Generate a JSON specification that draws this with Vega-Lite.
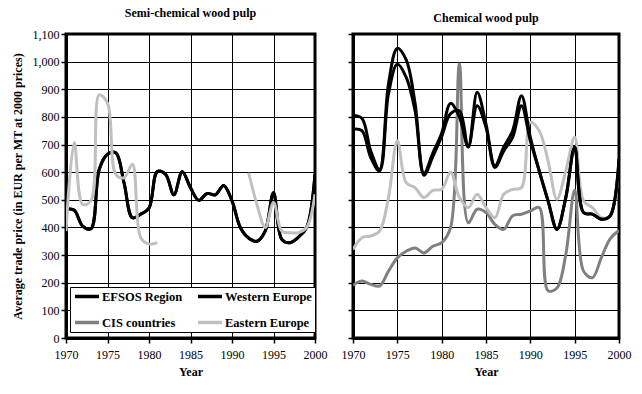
{
  "$schema": "https://vega.github.io/schema/vega-lite/v6.json",
  "background": "white",
  "padding": {"left": 9, "top": 5, "right": 5, "bottom": 5},
  "spacing": 10,
  "config": {
    "font": "Liberation Serif",
    "style": {"guide-label": {"font": "Liberation Serif", "fill": "black"}, "guide-title": {"font": "Liberation Serif", "fill": "black"}, "group-title": {"font": "Liberation Serif"}},
    "view": {"stroke": "black", "strokeWidth": 3},
    "axis": {
      "labelFont": "Liberation Serif", "labelFontSize": 12, "labelColor": "black",
      "titleFont": "Liberation Serif", "titleFontSize": 12, "titleFontWeight": "bold", "titleColor": "black",
      "domainColor": "black", "domainWidth": 3, "tickColor": "black", "tickSize": 5, "tickWidth": 1.5,
      "gridColor": "black", "gridWidth": 1, "gridOpacity": 1
    },
    "legend": {"labelFont": "Liberation Serif"},
    "title": {"font": "Liberation Serif", "fontSize": 12, "fontWeight": "bold", "color": "black", "offset": 8}
  },
  "datasets": {
    "pulp": [
      {"panel": "semi", "series": "Western Europe", "seg": "a", "year": 1970, "value": 468},
      {"panel": "semi", "series": "Western Europe", "seg": "a", "year": 1971, "value": 462},
      {"panel": "semi", "series": "Western Europe", "seg": "a", "year": 1972, "value": 405},
      {"panel": "semi", "series": "Western Europe", "seg": "a", "year": 1973, "value": 395},
      {"panel": "semi", "series": "Western Europe", "seg": "a", "year": 1974, "value": 610},
      {"panel": "semi", "series": "Western Europe", "seg": "a", "year": 1975, "value": 665},
      {"panel": "semi", "series": "Western Europe", "seg": "a", "year": 1976, "value": 670},
      {"panel": "semi", "series": "Western Europe", "seg": "a", "year": 1977, "value": 560},
      {"panel": "semi", "series": "Western Europe", "seg": "a", "year": 1978, "value": 435},
      {"panel": "semi", "series": "Western Europe", "seg": "a", "year": 1979, "value": 448},
      {"panel": "semi", "series": "Western Europe", "seg": "a", "year": 1980, "value": 470},
      {"panel": "semi", "series": "Western Europe", "seg": "a", "year": 1981, "value": 602},
      {"panel": "semi", "series": "Western Europe", "seg": "a", "year": 1982, "value": 592},
      {"panel": "semi", "series": "Western Europe", "seg": "a", "year": 1983, "value": 518},
      {"panel": "semi", "series": "Western Europe", "seg": "a", "year": 1984, "value": 602},
      {"panel": "semi", "series": "Western Europe", "seg": "a", "year": 1985, "value": 544},
      {"panel": "semi", "series": "Western Europe", "seg": "a", "year": 1986, "value": 498},
      {"panel": "semi", "series": "Western Europe", "seg": "a", "year": 1987, "value": 523},
      {"panel": "semi", "series": "Western Europe", "seg": "a", "year": 1988, "value": 518},
      {"panel": "semi", "series": "Western Europe", "seg": "a", "year": 1989, "value": 552},
      {"panel": "semi", "series": "Western Europe", "seg": "a", "year": 1990, "value": 496},
      {"panel": "semi", "series": "Western Europe", "seg": "a", "year": 1991, "value": 400},
      {"panel": "semi", "series": "Western Europe", "seg": "a", "year": 1992, "value": 362},
      {"panel": "semi", "series": "Western Europe", "seg": "a", "year": 1993, "value": 350},
      {"panel": "semi", "series": "Western Europe", "seg": "a", "year": 1994, "value": 387},
      {"panel": "semi", "series": "Western Europe", "seg": "a", "year": 1995, "value": 526},
      {"panel": "semi", "series": "Western Europe", "seg": "a", "year": 1996, "value": 357},
      {"panel": "semi", "series": "Western Europe", "seg": "a", "year": 1997, "value": 345},
      {"panel": "semi", "series": "Western Europe", "seg": "a", "year": 1998, "value": 365},
      {"panel": "semi", "series": "Western Europe", "seg": "a", "year": 1999, "value": 400},
      {"panel": "semi", "series": "Western Europe", "seg": "a", "year": 2000, "value": 592},
      {"panel": "semi", "series": "EFSOS Region", "seg": "a", "year": 1970, "value": 468},
      {"panel": "semi", "series": "EFSOS Region", "seg": "a", "year": 1971, "value": 462},
      {"panel": "semi", "series": "EFSOS Region", "seg": "a", "year": 1972, "value": 405},
      {"panel": "semi", "series": "EFSOS Region", "seg": "a", "year": 1973, "value": 395},
      {"panel": "semi", "series": "EFSOS Region", "seg": "a", "year": 1974, "value": 610},
      {"panel": "semi", "series": "EFSOS Region", "seg": "a", "year": 1975, "value": 665},
      {"panel": "semi", "series": "EFSOS Region", "seg": "a", "year": 1976, "value": 670},
      {"panel": "semi", "series": "EFSOS Region", "seg": "a", "year": 1977, "value": 560},
      {"panel": "semi", "series": "EFSOS Region", "seg": "a", "year": 1978, "value": 435},
      {"panel": "semi", "series": "EFSOS Region", "seg": "a", "year": 1979, "value": 448},
      {"panel": "semi", "series": "EFSOS Region", "seg": "a", "year": 1980, "value": 470},
      {"panel": "semi", "series": "EFSOS Region", "seg": "a", "year": 1981, "value": 602},
      {"panel": "semi", "series": "EFSOS Region", "seg": "a", "year": 1982, "value": 592},
      {"panel": "semi", "series": "EFSOS Region", "seg": "a", "year": 1983, "value": 518},
      {"panel": "semi", "series": "EFSOS Region", "seg": "a", "year": 1984, "value": 602},
      {"panel": "semi", "series": "EFSOS Region", "seg": "a", "year": 1985, "value": 544},
      {"panel": "semi", "series": "EFSOS Region", "seg": "a", "year": 1986, "value": 498},
      {"panel": "semi", "series": "EFSOS Region", "seg": "a", "year": 1987, "value": 523},
      {"panel": "semi", "series": "EFSOS Region", "seg": "a", "year": 1988, "value": 518},
      {"panel": "semi", "series": "EFSOS Region", "seg": "a", "year": 1989, "value": 552},
      {"panel": "semi", "series": "EFSOS Region", "seg": "a", "year": 1990, "value": 496},
      {"panel": "semi", "series": "EFSOS Region", "seg": "a", "year": 1991, "value": 400},
      {"panel": "semi", "series": "EFSOS Region", "seg": "a", "year": 1992, "value": 362},
      {"panel": "semi", "series": "EFSOS Region", "seg": "a", "year": 1993, "value": 350},
      {"panel": "semi", "series": "EFSOS Region", "seg": "a", "year": 1994, "value": 387},
      {"panel": "semi", "series": "EFSOS Region", "seg": "a", "year": 1995, "value": 526},
      {"panel": "semi", "series": "EFSOS Region", "seg": "a", "year": 1996, "value": 357},
      {"panel": "semi", "series": "EFSOS Region", "seg": "a", "year": 1997, "value": 345},
      {"panel": "semi", "series": "EFSOS Region", "seg": "a", "year": 1998, "value": 365},
      {"panel": "semi", "series": "EFSOS Region", "seg": "a", "year": 1999, "value": 400},
      {"panel": "semi", "series": "EFSOS Region", "seg": "a", "year": 2000, "value": 592},
      {"panel": "semi", "series": "Eastern Europe", "seg": "a", "year": 1970, "value": 387},
      {"panel": "semi", "series": "Eastern Europe", "seg": "a", "year": 1971, "value": 707},
      {"panel": "semi", "series": "Eastern Europe", "seg": "a", "year": 1972, "value": 484},
      {"panel": "semi", "series": "Eastern Europe", "seg": "a", "year": 1973, "value": 496},
      {"panel": "semi", "series": "Eastern Europe", "seg": "a", "year": 1974, "value": 880},
      {"panel": "semi", "series": "Eastern Europe", "seg": "a", "year": 1975, "value": 850},
      {"panel": "semi", "series": "Eastern Europe", "seg": "a", "year": 1976, "value": 592},
      {"panel": "semi", "series": "Eastern Europe", "seg": "a", "year": 1977, "value": 580},
      {"panel": "semi", "series": "Eastern Europe", "seg": "a", "year": 1978, "value": 629},
      {"panel": "semi", "series": "Eastern Europe", "seg": "a", "year": 1979, "value": 363},
      {"panel": "semi", "series": "Eastern Europe", "seg": "a", "year": 1980, "value": 340},
      {"panel": "semi", "series": "Eastern Europe", "seg": "a", "year": 1981, "value": 345},
      {"panel": "semi", "series": "Eastern Europe", "seg": "b", "year": 1992, "value": 598},
      {"panel": "semi", "series": "Eastern Europe", "seg": "b", "year": 1993, "value": 484},
      {"panel": "semi", "series": "Eastern Europe", "seg": "b", "year": 1994, "value": 400},
      {"panel": "semi", "series": "Eastern Europe", "seg": "b", "year": 1995, "value": 490},
      {"panel": "semi", "series": "Eastern Europe", "seg": "b", "year": 1996, "value": 387},
      {"panel": "semi", "series": "Eastern Europe", "seg": "b", "year": 1997, "value": 381},
      {"panel": "semi", "series": "Eastern Europe", "seg": "b", "year": 1998, "value": 381},
      {"panel": "semi", "series": "Eastern Europe", "seg": "b", "year": 1999, "value": 400},
      {"panel": "semi", "series": "Eastern Europe", "seg": "b", "year": 2000, "value": 520},

      {"panel": "chem", "series": "CIS countries", "seg": "a", "year": 1970, "value": 191},
      {"panel": "chem", "series": "CIS countries", "seg": "a", "year": 1971, "value": 206},
      {"panel": "chem", "series": "CIS countries", "seg": "a", "year": 1972, "value": 194},
      {"panel": "chem", "series": "CIS countries", "seg": "a", "year": 1973, "value": 188},
      {"panel": "chem", "series": "CIS countries", "seg": "a", "year": 1974, "value": 242},
      {"panel": "chem", "series": "CIS countries", "seg": "a", "year": 1975, "value": 290},
      {"panel": "chem", "series": "CIS countries", "seg": "a", "year": 1976, "value": 314},
      {"panel": "chem", "series": "CIS countries", "seg": "a", "year": 1977, "value": 326},
      {"panel": "chem", "series": "CIS countries", "seg": "a", "year": 1978, "value": 308},
      {"panel": "chem", "series": "CIS countries", "seg": "a", "year": 1979, "value": 332},
      {"panel": "chem", "series": "CIS countries", "seg": "a", "year": 1980, "value": 345},
      {"panel": "chem", "series": "CIS countries", "seg": "a", "year": 1981, "value": 399},
      {"panel": "chem", "series": "CIS countries", "seg": "a", "year": 1982, "value": 991},
      {"panel": "chem", "series": "CIS countries", "seg": "a", "year": 1983, "value": 417},
      {"panel": "chem", "series": "CIS countries", "seg": "a", "year": 1984, "value": 466},
      {"panel": "chem", "series": "CIS countries", "seg": "a", "year": 1985, "value": 454},
      {"panel": "chem", "series": "CIS countries", "seg": "a", "year": 1986, "value": 411},
      {"panel": "chem", "series": "CIS countries", "seg": "a", "year": 1987, "value": 393},
      {"panel": "chem", "series": "CIS countries", "seg": "a", "year": 1988, "value": 442},
      {"panel": "chem", "series": "CIS countries", "seg": "a", "year": 1989, "value": 448},
      {"panel": "chem", "series": "CIS countries", "seg": "a", "year": 1990, "value": 460},
      {"panel": "chem", "series": "CIS countries", "seg": "a", "year": 1991, "value": 472},
      {"panel": "chem", "series": "CIS countries", "seg": "a", "year": 1992, "value": 171},
      {"panel": "chem", "series": "CIS countries", "seg": "a", "year": 1993, "value": 181},
      {"panel": "chem", "series": "CIS countries", "seg": "a", "year": 1994, "value": 302},
      {"panel": "chem", "series": "CIS countries", "seg": "a", "year": 1995, "value": 535},
      {"panel": "chem", "series": "CIS countries", "seg": "a", "year": 1996, "value": 242},
      {"panel": "chem", "series": "CIS countries", "seg": "a", "year": 1997, "value": 218},
      {"panel": "chem", "series": "CIS countries", "seg": "a", "year": 1998, "value": 290},
      {"panel": "chem", "series": "CIS countries", "seg": "a", "year": 1999, "value": 359},
      {"panel": "chem", "series": "CIS countries", "seg": "a", "year": 2000, "value": 389},
      {"panel": "chem", "series": "Eastern Europe", "seg": "a", "year": 1970, "value": 320},
      {"panel": "chem", "series": "Eastern Europe", "seg": "a", "year": 1971, "value": 363},
      {"panel": "chem", "series": "Eastern Europe", "seg": "a", "year": 1972, "value": 369},
      {"panel": "chem", "series": "Eastern Europe", "seg": "a", "year": 1973, "value": 387},
      {"panel": "chem", "series": "Eastern Europe", "seg": "a", "year": 1974, "value": 508},
      {"panel": "chem", "series": "Eastern Europe", "seg": "a", "year": 1975, "value": 714},
      {"panel": "chem", "series": "Eastern Europe", "seg": "a", "year": 1976, "value": 562},
      {"panel": "chem", "series": "Eastern Europe", "seg": "a", "year": 1977, "value": 544},
      {"panel": "chem", "series": "Eastern Europe", "seg": "a", "year": 1978, "value": 508},
      {"panel": "chem", "series": "Eastern Europe", "seg": "a", "year": 1979, "value": 534},
      {"panel": "chem", "series": "Eastern Europe", "seg": "a", "year": 1980, "value": 538},
      {"panel": "chem", "series": "Eastern Europe", "seg": "a", "year": 1981, "value": 600},
      {"panel": "chem", "series": "Eastern Europe", "seg": "a", "year": 1982, "value": 508},
      {"panel": "chem", "series": "Eastern Europe", "seg": "a", "year": 1983, "value": 472},
      {"panel": "chem", "series": "Eastern Europe", "seg": "a", "year": 1984, "value": 520},
      {"panel": "chem", "series": "Eastern Europe", "seg": "a", "year": 1985, "value": 472},
      {"panel": "chem", "series": "Eastern Europe", "seg": "a", "year": 1986, "value": 435},
      {"panel": "chem", "series": "Eastern Europe", "seg": "a", "year": 1987, "value": 520},
      {"panel": "chem", "series": "Eastern Europe", "seg": "a", "year": 1988, "value": 538},
      {"panel": "chem", "series": "Eastern Europe", "seg": "a", "year": 1989, "value": 544},
      {"panel": "chem", "series": "Eastern Europe", "seg": "a", "year": 1990, "value": 780},
      {"panel": "chem", "series": "Eastern Europe", "seg": "a", "year": 1991, "value": 750},
      {"panel": "chem", "series": "Eastern Europe", "seg": "a", "year": 1992, "value": 641},
      {"panel": "chem", "series": "Eastern Europe", "seg": "a", "year": 1993, "value": 502},
      {"panel": "chem", "series": "Eastern Europe", "seg": "a", "year": 1994, "value": 605},
      {"panel": "chem", "series": "Eastern Europe", "seg": "a", "year": 1995, "value": 726},
      {"panel": "chem", "series": "Eastern Europe", "seg": "a", "year": 1996, "value": 496},
      {"panel": "chem", "series": "Eastern Europe", "seg": "a", "year": 1997, "value": 472},
      {"panel": "chem", "series": "Eastern Europe", "seg": "a", "year": 1998, "value": 435},
      {"panel": "chem", "series": "Eastern Europe", "seg": "a", "year": 1999, "value": 442},
      {"panel": "chem", "series": "Eastern Europe", "seg": "a", "year": 2000, "value": 629},
      {"panel": "chem", "series": "EFSOS Region", "seg": "a", "year": 1970, "value": 756},
      {"panel": "chem", "series": "EFSOS Region", "seg": "a", "year": 1971, "value": 750},
      {"panel": "chem", "series": "EFSOS Region", "seg": "a", "year": 1972, "value": 653},
      {"panel": "chem", "series": "EFSOS Region", "seg": "a", "year": 1973, "value": 604},
      {"panel": "chem", "series": "EFSOS Region", "seg": "a", "year": 1974, "value": 883},
      {"panel": "chem", "series": "EFSOS Region", "seg": "a", "year": 1975, "value": 991},
      {"panel": "chem", "series": "EFSOS Region", "seg": "a", "year": 1976, "value": 943},
      {"panel": "chem", "series": "EFSOS Region", "seg": "a", "year": 1977, "value": 822},
      {"panel": "chem", "series": "EFSOS Region", "seg": "a", "year": 1978, "value": 589},
      {"panel": "chem", "series": "EFSOS Region", "seg": "a", "year": 1979, "value": 656},
      {"panel": "chem", "series": "EFSOS Region", "seg": "a", "year": 1980, "value": 729},
      {"panel": "chem", "series": "EFSOS Region", "seg": "a", "year": 1981, "value": 812},
      {"panel": "chem", "series": "EFSOS Region", "seg": "a", "year": 1982, "value": 822},
      {"panel": "chem", "series": "EFSOS Region", "seg": "a", "year": 1983, "value": 691},
      {"panel": "chem", "series": "EFSOS Region", "seg": "a", "year": 1984, "value": 840},
      {"panel": "chem", "series": "EFSOS Region", "seg": "a", "year": 1985, "value": 762},
      {"panel": "chem", "series": "EFSOS Region", "seg": "a", "year": 1986, "value": 617},
      {"panel": "chem", "series": "EFSOS Region", "seg": "a", "year": 1987, "value": 677},
      {"panel": "chem", "series": "EFSOS Region", "seg": "a", "year": 1988, "value": 726},
      {"panel": "chem", "series": "EFSOS Region", "seg": "a", "year": 1989, "value": 840},
      {"panel": "chem", "series": "EFSOS Region", "seg": "a", "year": 1990, "value": 713},
      {"panel": "chem", "series": "EFSOS Region", "seg": "a", "year": 1991, "value": 605},
      {"panel": "chem", "series": "EFSOS Region", "seg": "a", "year": 1992, "value": 496},
      {"panel": "chem", "series": "EFSOS Region", "seg": "a", "year": 1993, "value": 393},
      {"panel": "chem", "series": "EFSOS Region", "seg": "a", "year": 1994, "value": 508},
      {"panel": "chem", "series": "EFSOS Region", "seg": "a", "year": 1995, "value": 690},
      {"panel": "chem", "series": "EFSOS Region", "seg": "a", "year": 1996, "value": 454},
      {"panel": "chem", "series": "EFSOS Region", "seg": "a", "year": 1997, "value": 448},
      {"panel": "chem", "series": "EFSOS Region", "seg": "a", "year": 1998, "value": 430},
      {"panel": "chem", "series": "EFSOS Region", "seg": "a", "year": 1999, "value": 442},
      {"panel": "chem", "series": "EFSOS Region", "seg": "a", "year": 2000, "value": 647},
      {"panel": "chem", "series": "Western Europe", "seg": "a", "year": 1970, "value": 805},
      {"panel": "chem", "series": "Western Europe", "seg": "a", "year": 1971, "value": 795},
      {"panel": "chem", "series": "Western Europe", "seg": "a", "year": 1972, "value": 677},
      {"panel": "chem", "series": "Western Europe", "seg": "a", "year": 1973, "value": 610},
      {"panel": "chem", "series": "Western Europe", "seg": "a", "year": 1974, "value": 919},
      {"panel": "chem", "series": "Western Europe", "seg": "a", "year": 1975, "value": 1048},
      {"panel": "chem", "series": "Western Europe", "seg": "a", "year": 1976, "value": 1006},
      {"panel": "chem", "series": "Western Europe", "seg": "a", "year": 1977, "value": 849},
      {"panel": "chem", "series": "Western Europe", "seg": "a", "year": 1978, "value": 596},
      {"panel": "chem", "series": "Western Europe", "seg": "a", "year": 1979, "value": 669},
      {"panel": "chem", "series": "Western Europe", "seg": "a", "year": 1980, "value": 741},
      {"panel": "chem", "series": "Western Europe", "seg": "a", "year": 1981, "value": 849},
      {"panel": "chem", "series": "Western Europe", "seg": "a", "year": 1982, "value": 800},
      {"panel": "chem", "series": "Western Europe", "seg": "a", "year": 1983, "value": 691},
      {"panel": "chem", "series": "Western Europe", "seg": "a", "year": 1984, "value": 889},
      {"panel": "chem", "series": "Western Europe", "seg": "a", "year": 1985, "value": 774},
      {"panel": "chem", "series": "Western Europe", "seg": "a", "year": 1986, "value": 623},
      {"panel": "chem", "series": "Western Europe", "seg": "a", "year": 1987, "value": 691},
      {"panel": "chem", "series": "Western Europe", "seg": "a", "year": 1988, "value": 750},
      {"panel": "chem", "series": "Western Europe", "seg": "a", "year": 1989, "value": 877},
      {"panel": "chem", "series": "Western Europe", "seg": "a", "year": 1990, "value": 726},
      {"panel": "chem", "series": "Western Europe", "seg": "a", "year": 1991, "value": 605},
      {"panel": "chem", "series": "Western Europe", "seg": "a", "year": 1992, "value": 496},
      {"panel": "chem", "series": "Western Europe", "seg": "a", "year": 1993, "value": 393},
      {"panel": "chem", "series": "Western Europe", "seg": "a", "year": 1994, "value": 508},
      {"panel": "chem", "series": "Western Europe", "seg": "a", "year": 1995, "value": 690},
      {"panel": "chem", "series": "Western Europe", "seg": "a", "year": 1996, "value": 454},
      {"panel": "chem", "series": "Western Europe", "seg": "a", "year": 1997, "value": 448},
      {"panel": "chem", "series": "Western Europe", "seg": "a", "year": 1998, "value": 430},
      {"panel": "chem", "series": "Western Europe", "seg": "a", "year": 1999, "value": 442},
      {"panel": "chem", "series": "Western Europe", "seg": "a", "year": 2000, "value": 647}
    ]
  },
  "resolve": {"legend": {"color": "independent"}, "scale": {"color": "shared"}},
  "hconcat": [
    {
      "width": 249,
      "height": 304,
      "title": {"text": "Semi-chemical wood pulp", "font": "Liberation Serif"},
      "data": {"name": "pulp"},
      "transform": [{"filter": "datum.panel === 'semi'"}],
      "mark": {"type": "line", "interpolate": "catmull-rom", "strokeWidth": 3, "clip": true},
      "encoding": {
        "x": {"field": "year", "type": "quantitative", "title": "Year",
              "scale": {"domain": [1970, 2000], "nice": false, "zero": false},
              "axis": {"values": [1970, 1975, 1980, 1985, 1990, 1995, 2000], "format": "d", "labelFont": "Liberation Serif", "labelPadding": 6, "titlePadding": 6, "labelFlush": false}},
        "y": {"field": "value", "type": "quantitative", "title": "Average trade price (in EUR per MT at 2000 prices)",
              "scale": {"domain": [0, 1100], "nice": false},
              "axis": {"values": [0, 100, 200, 300, 400, 500, 600, 700, 800, 900, 1000, 1100], "format": ",d", "labelFont": "Liberation Serif", "labelPadding": 2, "titlePadding": 8, "labelFlush": false}},
        "color": {"field": "series", "type": "nominal",
                  "scale": {"domain": ["EFSOS Region", "Western Europe", "CIS countries", "Eastern Europe"], "range": ["#000000", "#000000", "#808080", "#c0c0c0"]},
                  "legend": {"title": null, "orient": "none", "legendX": 4, "legendY": 253, "columns": 2, "direction": "horizontal",
                             "symbolType": "stroke", "symbolSize": 576, "symbolStrokeWidth": 3.5, "clipHeight": 13,
                             "labelFont": "Liberation Serif", "labelFontSize": 12.5, "labelFontWeight": "bold", "labelColor": "black",
                             "labelOffset": 1, "columnPadding": 13, "rowPadding": 13, "padding": 3,
                             "strokeColor": "black", "fillColor": "white", "labelLimit": 200}},
        "detail": {"field": "seg"},
        "order": {"field": "year"}
      }
    },
    {
      "width": 266,
      "height": 304,
      "title": {"text": "Chemical wood pulp", "font": "Liberation Serif"},
      "data": {"name": "pulp"},
      "transform": [{"filter": "datum.panel === 'chem'"}],
      "mark": {"type": "line", "interpolate": "catmull-rom", "strokeWidth": 3, "clip": true},
      "encoding": {
        "x": {"field": "year", "type": "quantitative", "title": "Year",
              "scale": {"domain": [1970, 2000], "nice": false, "zero": false},
              "axis": {"values": [1970, 1975, 1980, 1985, 1990, 1995, 2000], "format": "d", "labelFont": "Liberation Serif", "labelPadding": 6, "titlePadding": 6, "labelFlush": false}},
        "y": {"field": "value", "type": "quantitative", "title": null,
              "scale": {"domain": [0, 1100], "nice": false},
              "axis": {"values": [0, 100, 200, 300, 400, 500, 600, 700, 800, 900, 1000, 1100], "labels": false}},
        "color": {"field": "series", "type": "nominal",
                  "scale": {"domain": ["EFSOS Region", "Western Europe", "CIS countries", "Eastern Europe"], "range": ["#000000", "#000000", "#808080", "#c0c0c0"]},
                  "legend": null},
        "detail": {"field": "seg"},
        "order": {"field": "year"}
      }
    }
  ]
}
